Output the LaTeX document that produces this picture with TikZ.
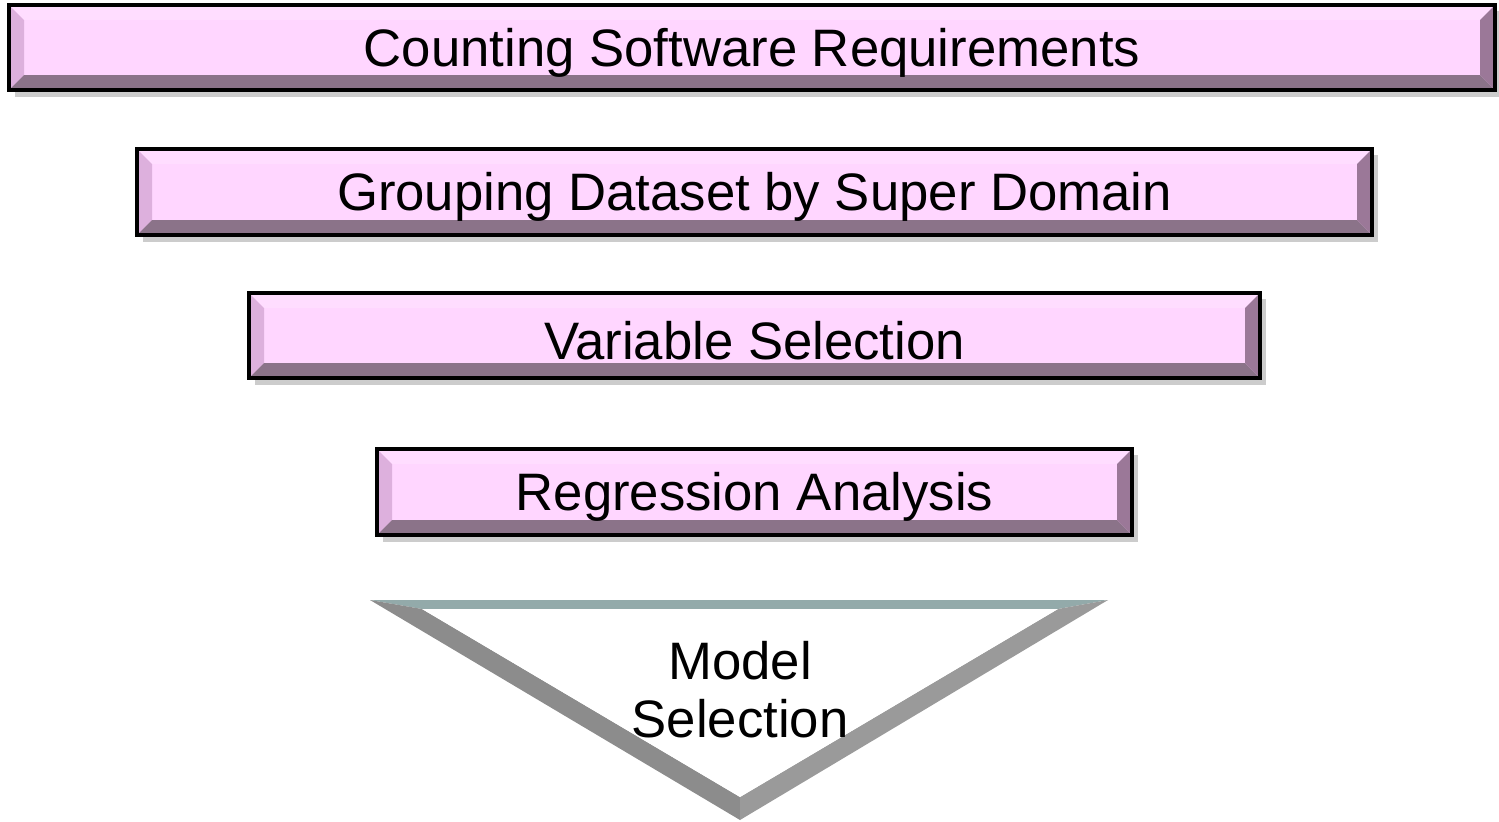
\documentclass[tikz,border=0pt]{standalone}
\usepackage{fontspec}
\setmainfont{Liberation Sans}
\definecolor{face}{HTML}{FFD6FF}
\definecolor{btop}{HTML}{FFDDFF}
\definecolor{bleft}{HTML}{DDB0DD}
\definecolor{bbot}{HTML}{8B7389}
\definecolor{bright}{HTML}{9B7898}
\definecolor{shad}{HTML}{CCCCCC}
\definecolor{tritop}{HTML}{93AAAA}
\definecolor{trileft}{HTML}{8C8C8C}
\definecolor{triright}{HTML}{9A9A9A}
\tikzset{
  lbl/.style={font=\fontsize{30}{35}\selectfont, text=black, align=center, inner sep=0pt},
}
\newcommand{\bevbox}[6]{%
  % #1 name, #2 x1, #3 y1, #4 x2, #5 y2, #6 text
  \fill[shad] (#2+6,#3+6) rectangle (#4+6,#5+7);
  \fill[face] (#2,#3) rectangle (#4,#5);
  \fill[btop] (#2,#3) -- (#4,#3) -- (#4-15,#3+15) -- (#2+15,#3+15) -- cycle;
  \fill[bleft] (#2,#3) -- (#2+15,#3+15) -- (#2+15,#5-15) -- (#2,#5) -- cycle;
  \fill[bbot] (#2,#5) -- (#2+15,#5-15) -- (#4-15,#5-15) -- (#4,#5) -- cycle;
  \fill[bright] (#4,#3) -- (#4-15,#3+15) -- (#4-15,#5-15) -- (#4,#5) -- cycle;
  \draw[black, line width=1.8] (#2,#3) rectangle (#4,#5);
  \node[lbl] (#1) at ({(#2+#4)/2},{(#3+#5)/2+5}) {#6};
}
\begin{document}
\begin{tikzpicture}[x=0.02cm,y=-0.02cm]
\useasboundingbox (0,0) rectangle (1499,822);
\bevbox{count}{9}{5}{1495}{90}{Counting Software Requirements}
\bevbox{group}{137}{149}{1372}{235}{Grouping Dataset by Super Domain}
\bevbox{var}{249}{293}{1260}{378}{Variable Selection}
\bevbox{reg}{377}{449}{1132}{535}{Regression Analysis}
% triangle
\coordinate (tl) at (370,600);
\coordinate (tr) at (1108,600);
\coordinate (ap) at (740,820);
\coordinate (itl) at (422,609);
\coordinate (itr) at (1058,609);
\coordinate (iap) at (740,797);
\fill[tritop] (tl) -- (tr) -- (itr) -- (itl) -- cycle;
\fill[trileft] (tl) -- (itl) -- (iap) -- (ap) -- cycle;
\fill[triright] (tr) -- (itr) -- (iap) -- (ap) -- cycle;
\fill[white] (itl) -- (itr) -- (iap) -- cycle;
\node[lbl] (model) at (740,690) {Model\\[-2pt]Selection};
\end{tikzpicture}
\end{document}
